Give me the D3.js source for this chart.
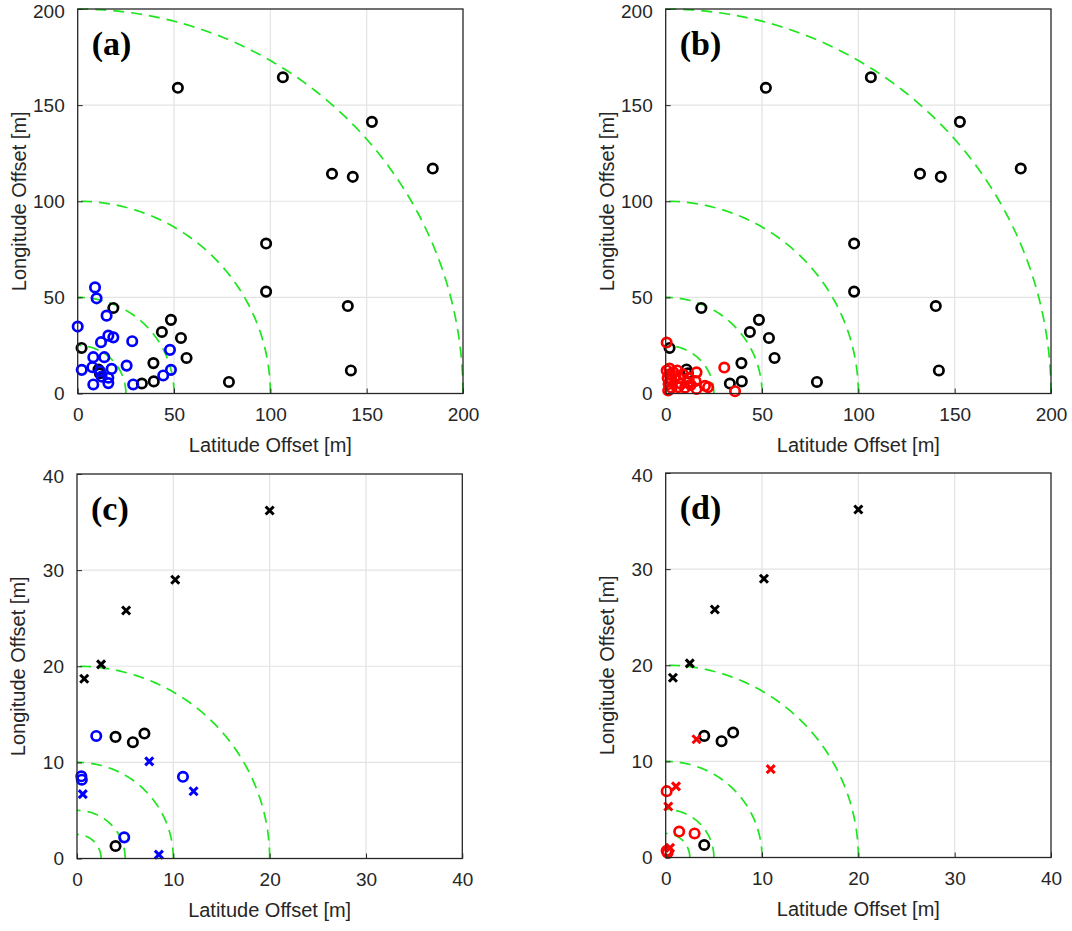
<!DOCTYPE html>
<html>
<head>
<meta charset="utf-8">
<script src="https://cdn.jsdelivr.net/npm/d3@7/dist/d3.min.js"></script>
<style>
  body { margin: 0; background: #fff; }
  text { font-family: Arial, "Liberation Sans", sans-serif; fill: #262626; }
  text.tag { font-family: "Liberation Serif", "Times New Roman", serif; font-weight: bold; fill: #000; }
</style>
</head>
<body>
<script>
// tick values and ring radii
var bigTicks = [0, 50, 100, 150, 200];
var smallTicks = [0, 10, 20, 30, 40];
var bigRings = [25, 50, 100, 200];
var smallRings = [2.5, 5, 10, 20];

// panels (a)/(b): [latitude, longitude] offsets in m
var blackCirclesBig = [[52,159],[106.5,164.5],[152.7,141.3],[184.3,117],[132,114.3],[142.8,112.7],
  [97.8,78],[97.8,53],[140.2,45.5],[141.8,12],[78.5,6],[18.5,44.5],[48.4,38.3],[43.7,32],
  [53.6,28.9],[56.5,18.5],[39.3,15.8],[2,23.7],[10.8,12.5],[11.5,10.5],[33.3,5.2],[39.5,6.3]];
var blueCirclesBig = [[9,55.2],[9.8,49.5],[15,40.5],[0,34.8],[15.9,30.1],[18.5,29.2],[12.1,26.7],
  [28.3,27.2],[47.9,22.7],[8.1,18.9],[13.8,18.9],[2.1,12.3],[7.6,13.7],[17.6,12.8],[25.4,14.5],
  [48.4,12.3],[44.4,9.4],[12.4,8.8],[15.9,8.2],[15.9,5.4],[8.1,4.7],[28.8,4.7],[11.6,11.6]];
var redCirclesBig = [[0.5,26.5],[30.4,13.5],[36,1.2],[16,11],[22,3.3],[16,2.4],[1.3,1.6],[6.5,3.3],
  [11.7,5.9],[15.5,6.5],[20.4,4],[1,8],[2,10],[3,7],[4,11],[1.5,5],[5,9],[7,8],[8,5],[3,3],
  [9,10],[12,8],[0.5,12],[2,13],[6,12],[10,3],[13,4.5]];

// panels (c)/(d)
var blackCrossSmall = [[20,36.2],[10.2,29],[5.1,25.8],[2.5,20.2],[0.75,18.7]];
var blackCircleSmall = [[4,12.65],[5.8,12.1],[7,13],[4,1.3]];
var blueCircleSmall = [[2,12.75],[0.45,8.55],[0.5,8.2],[11,8.5],[4.9,2.2]];
var blueCrossSmall = [[7.5,10.1],[0.6,6.7],[12.1,7],[8.5,0.4]];
var redCircleSmall = [[0.1,6.9],[1.4,2.7],[3,2.5],[0.1,0.7],[0.2,0.5]];
var redCrossSmall = [[3.2,12.3],[10.9,9.2],[1.07,7.4],[0.27,5.3],[0.45,1]];

var panels = [
  {tag:"(a)", left:77.7, top:9, max:200, ticks:bigTicks, rings:bigRings,
   series:[{d:blackCirclesBig, c:"#000", m:"o"}, {d:blueCirclesBig, c:"#0000ff", m:"o"}]},
  {tag:"(b)", left:665.7, top:9, max:200, ticks:bigTicks, rings:bigRings,
   series:[{d:blackCirclesBig, c:"#000", m:"o"}, {d:redCirclesBig, c:"#ff0000", m:"o"}]},
  {tag:"(c)", left:77, top:474, max:40, ticks:smallTicks, rings:smallRings,
   series:[{d:blackCrossSmall, c:"#000", m:"x"}, {d:blackCircleSmall, c:"#000", m:"o"},
           {d:blueCircleSmall, c:"#0000ff", m:"o"}, {d:blueCrossSmall, c:"#0000ff", m:"x"}]},
  {tag:"(d)", left:665.7, top:473, max:40, ticks:smallTicks, rings:smallRings,
   series:[{d:blackCrossSmall, c:"#000", m:"x"}, {d:blackCircleSmall, c:"#000", m:"o"},
           {d:redCircleSmall, c:"#ff0000", m:"o"}, {d:redCrossSmall, c:"#ff0000", m:"x"}]}
];

var W = 385.3, H = 384.5;

var svg = d3.select("body").append("svg").attr("width", 1072).attr("height", 931);

panels.forEach(function(p) {
  var g = svg.append("g").attr("transform", "translate(" + p.left + "," + p.top + ")");
  var x = d3.scaleLinear().domain([0, p.max]).range([0, W]);
  var y = d3.scaleLinear().domain([0, p.max]).range([H, 0]);

  // grid
  g.selectAll("line.gx").data(p.ticks.slice(1, -1)).enter().append("line")
    .attr("x1", function(d){ return x(d); }).attr("x2", function(d){ return x(d); })
    .attr("y1", 0).attr("y2", H).attr("stroke", "#e3e3e3").attr("stroke-width", 1.2);
  g.selectAll("line.gy").data(p.ticks.slice(1, -1)).enter().append("line")
    .attr("y1", function(d){ return y(d); }).attr("y2", function(d){ return y(d); })
    .attr("x1", 0).attr("x2", W).attr("stroke", "#e3e3e3").attr("stroke-width", 1.2);

  // dashed quarter rings
  var angles = d3.range(0, 91).map(function(a){ return a * Math.PI / 180; });
  p.rings.forEach(function(r) {
    var ring = d3.line()
      .x(function(a){ return x(r * Math.cos(a)); })
      .y(function(a){ return y(r * Math.sin(a)); });
    g.append("path").attr("d", ring(angles))
      .attr("fill", "none").attr("stroke", "#1ee61e").attr("stroke-width", 1.7)
      .attr("stroke-dasharray", "11,7");
  });

  // markers
  p.series.forEach(function(s) {
    if (s.m === "o") {
      g.selectAll(null).data(s.d).enter().append("circle")
        .attr("cx", function(d){ return x(d[0]); })
        .attr("cy", function(d){ return y(d[1]); })
        .attr("r", 4.7)
        .attr("fill", "none").attr("stroke", s.c).attr("stroke-width", 2.7);
    } else {
      g.selectAll(null).data(s.d).enter().append("path")
        .attr("transform", function(d){ return "translate(" + x(d[0]) + "," + y(d[1]) + ")"; })
        .attr("d", "M-4,-4L4,4M-4,4L4,-4")
        .attr("stroke", s.c).attr("stroke-width", 3).attr("fill", "none");
    }
  });

  // axes (ticks point inward, MATLAB style)
  var xAxis = d3.axisBottom(x).tickValues(p.ticks).tickSize(-5).tickPadding(14);
  var yAxis = d3.axisLeft(y).tickValues(p.ticks).tickSize(-5).tickPadding(13);
  var gx = g.append("g").attr("transform", "translate(0," + H + ")").call(xAxis);
  var gy = g.append("g").call(yAxis);
  [gx, gy].forEach(function(a) {
    a.select(".domain").remove();
    a.selectAll(".tick line").attr("stroke", "#262626");
    a.selectAll(".tick text").attr("font-size", 19).attr("fill", "#262626");
  });
  gy.selectAll(".tick text").attr("dy", function(d){ return d === p.max ? "0.45em" : "0.32em"; });

  // box
  g.append("rect").attr("width", W).attr("height", H)
    .attr("fill", "none").attr("stroke", "#262626").attr("stroke-width", 1.3);

  // axis titles
  g.append("text").attr("x", W / 2).attr("y", H + 58).attr("text-anchor", "middle")
    .attr("font-size", 20).text("Latitude Offset [m]");
  g.append("text").attr("transform", "translate(-52," + (H / 2) + ") rotate(-90)")
    .attr("text-anchor", "middle").attr("font-size", 20).text("Longitude Offset [m]");

  // panel tag
  g.append("text").attr("class", "tag").attr("x", 14).attr("y", 46)
    .attr("font-size", 34).text(p.tag);
});
</script>
</body>
</html>
